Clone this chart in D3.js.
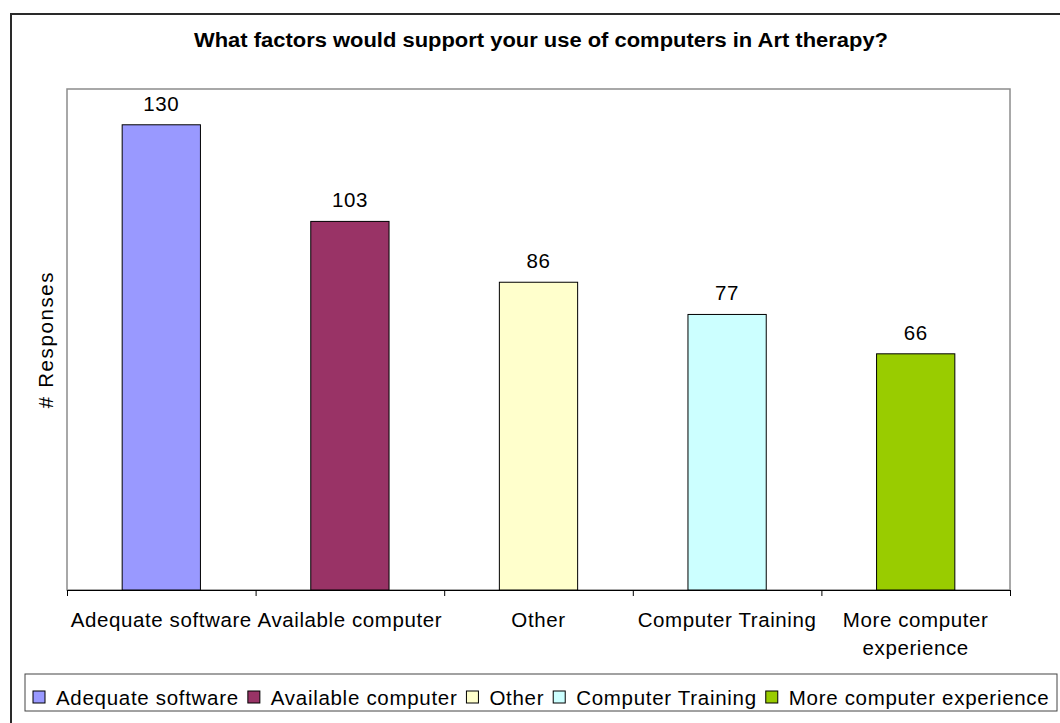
<!DOCTYPE html>
<html>
<head>
<meta charset="utf-8">
<script src="https://cdn.jsdelivr.net/npm/d3@7"></script>
<style>
  html, body { margin: 0; padding: 0; background: #fff; }
  svg { display: block; font-family: "Liberation Sans", Arial, sans-serif; }
</style>
</head>
<body>
<svg id="chart" width="1060" height="723"></svg>
<script>
// Survey responses per factor
const categories = ["Adequate software", "Available computer", "Other", "Computer Training", "More computer experience"];
const responses = [130, 103, 86, 77, 66];
const barColors = ["#9999FF", "#993366", "#FFFFCC", "#CCFFFF", "#99CC00"];
const categoryLines = [["Adequate software"], ["Available computer"], ["Other"], ["Computer Training"], ["More computer", "experience"]];
const yDomain = [0, 140];

const svg = d3.select("#chart");
const plot = { left: 67, top: 89, right: 1010, bottom: 590 };
const labelSize = 20.5;
const labelSpacing = 0.6;

// Outer chart frame (runs off the right and bottom edges)
svg.append("rect")
  .attr("x", 11).attr("y", 14)
  .attr("width", 1100).attr("height", 800)
  .attr("fill", "#fff").attr("stroke", "#2a2a2a").attr("stroke-width", 2);

// Title
svg.append("text")
  .attr("x", 541).attr("y", 47)
  .attr("text-anchor", "middle")
  .attr("font-size", 20).attr("font-weight", "bold")
  .attr("textLength", 694).attr("lengthAdjust", "spacingAndGlyphs")
  .text("What factors would support your use of computers in Art therapy?");

const x = d3.scaleBand()
  .domain(categories)
  .range([plot.left, plot.right])
  .paddingInner(0.585)
  .paddingOuter(0.2925);

const y = d3.scaleLinear().domain(yDomain).range([plot.bottom, plot.top]);

// Plot area border
svg.append("rect")
  .attr("x", plot.left).attr("y", plot.top)
  .attr("width", plot.right - plot.left).attr("height", plot.bottom - plot.top)
  .attr("fill", "none").attr("stroke", "#8c8c8c").attr("stroke-width", 1.5);

// Bars
svg.append("g").selectAll("rect")
  .data(categories)
  .join("rect")
  .attr("x", d => x(d))
  .attr("y", (d, i) => y(responses[i]))
  .attr("width", x.bandwidth())
  .attr("height", (d, i) => y(0) - y(responses[i]))
  .attr("fill", (d, i) => barColors[i])
  .attr("stroke", "#000").attr("stroke-width", 1);

// Value labels
svg.append("g").selectAll("text")
  .data(categories)
  .join("text")
  .attr("x", d => x(d) + x.bandwidth() / 2)
  .attr("y", (d, i) => y(responses[i]) - 14)
  .attr("text-anchor", "middle")
  .attr("font-size", labelSize)
  .attr("letter-spacing", labelSpacing)
  .text((d, i) => responses[i]);

// Category axis: line plus ticks on category boundaries
const xAxis = d3.axisBottom(d3.scaleLinear().domain([0, categories.length]).range([plot.left, plot.right]))
  .tickValues(d3.range(categories.length + 1))
  .tickSize(6)
  .tickFormat("");
svg.append("g")
  .attr("transform", `translate(0,${plot.bottom})`)
  .call(xAxis)
  .call(g => g.selectAll("path, line").attr("stroke", "#000"));

// Category labels
const catG = svg.append("g");
categories.forEach((c, i) => {
  const cx = x(c) + x.bandwidth() / 2;
  const t = catG.append("text")
    .attr("x", cx)
    .attr("y", 627)
    .attr("text-anchor", "middle")
    .attr("font-size", labelSize)
    .attr("letter-spacing", labelSpacing);
  categoryLines[i].forEach((line, j) => {
    t.append("tspan")
      .attr("x", cx)
      .attr("dy", j === 0 ? 0 : 28)
      .text(line);
  });
});

// Y axis title
svg.append("text")
  .attr("transform", `translate(53,${(plot.top + plot.bottom) / 2}) rotate(-90)`)
  .attr("text-anchor", "middle")
  .attr("font-size", labelSize)
  .attr("letter-spacing", 1.6)
  .text("# Responses");

// Legend
const legend = { left: 25, top: 674, right: 1057, bottom: 711 };
svg.append("rect")
  .attr("x", legend.left).attr("y", legend.top)
  .attr("width", legend.right - legend.left).attr("height", legend.bottom - legend.top)
  .attr("fill", "#fff").attr("stroke", "#444").attr("stroke-width", 1);

const legG = svg.append("g");
let cursor = 33;
categories.forEach((c, i) => {
  legG.append("rect")
    .attr("x", cursor).attr("y", 691)
    .attr("width", 12).attr("height", 12)
    .attr("fill", barColors[i]).attr("stroke", "#000").attr("stroke-width", 1);
  const t = legG.append("text")
    .attr("x", cursor + 23).attr("y", 705)
    .attr("font-size", labelSize)
    .attr("letter-spacing", 0.7)
    .text(c);
  cursor += 23 + t.node().getComputedTextLength() + 9;
});
</script>
</body>
</html>
